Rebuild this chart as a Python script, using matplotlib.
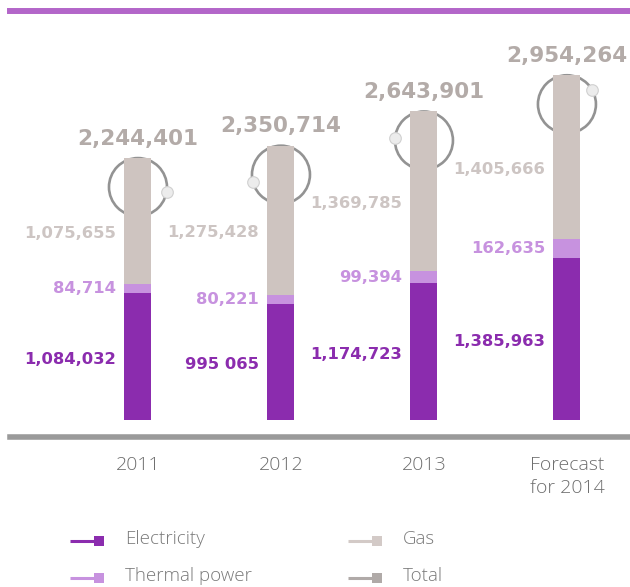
import matplotlib
matplotlib.use("Agg")
import matplotlib.pyplot as plt
from matplotlib.transforms import offset_copy
import numpy as np

years = ["2011", "2012", "2013", "Forecast\nfor 2014"]
electricity = [1084032, 995065, 1174723, 1385963]
thermal = [84714, 80221, 99394, 162635]
gas = [1075655, 1275428, 1369785, 1405666]
totals = [2244401, 2350714, 2643901, 2954264]
elec_labels = ["1,084,032", "995 065", "1,174,723", "1,385,963"]
ball_angles = [-10, 195, 176, 30]  # where the little knob sits on each ring

c_elec = "#8b2cae"
c_therm = "#c792df"
c_gas = "#cec4c0"
c_total = "#b3aba8"
c_gas_txt = "#cdc5c3"

W, H = 630, 587
fig = plt.figure(figsize=(W / 100, H / 100), dpi=100)
ax = fig.add_axes([10 / W, (H - 437) / H, 620 / W, (437 - 11) / H])

upp = 1e6 / 116.7  # data units per pixel
ax.set_ylim(-17 * upp, 409 * upp)
ax.set_xlim(-0.895, 3.441)

x = np.arange(len(years))
w = 0.189
elec = np.array(electricity)
therm = np.array(thermal)
g = np.array(gas)

ax.bar(x, elec, w, color=c_elec, zorder=2)
ax.bar(x, therm, w, bottom=elec, color=c_therm, zorder=2)
ax.bar(x, g, w, bottom=elec + therm, color=c_gas, zorder=2)

# rings around the bar tops
r = 29
ring_tr = offset_copy(ax.transData, fig=fig, y=-r, units="dots")
ax.scatter(x, totals, s=(2 * r * 0.72) ** 2, facecolors="none",
           edgecolors="#939393", linewidths=1.9, transform=ring_tr, zorder=1)
for xi, t, a in zip(x, totals, ball_angles):
    tr = offset_copy(ax.transData, fig=fig, x=r * np.cos(np.radians(a)),
                     y=-r + r * np.sin(np.radians(a)), units="dots")
    ax.scatter([xi], [t], s=70, color="#ececec", edgecolors="#d0d0d0",
               linewidths=0.8, transform=tr, zorder=3)

num_font = dict(fontsize=11.8, fontweight="bold", family="DejaVu Sans",
                textcoords="offset points", ha="right", va="center")
for i in range(len(x)):
    left = x[i] - w / 2
    ax.annotate(elec_labels[i], xy=(left, elec[i] / 2), xytext=(-6, -2),
                color=c_elec, **num_font)
    ax.annotate(f"{therm[i]:,}", xy=(left, elec[i] + therm[i] / 2), xytext=(-6, 0),
                color=c_therm, **num_font)
    ax.annotate(f"{g[i]:,}", xy=(left, elec[i] + therm[i] + g[i] / 2), xytext=(-6, -9),
                color=c_gas_txt, **num_font)
    ax.annotate(f"{totals[i]:,}", xy=(x[i], totals[i]), xytext=(0, 14),
                textcoords="offset points", ha="center", va="center",
                fontsize=15.5, fontweight="bold", family="DejaVu Sans", color=c_total)

for s in ["left", "right"]:
    ax.spines[s].set_visible(False)
ax.spines["bottom"].set_color("#9a9a9a")
ax.spines["bottom"].set_linewidth(4)
ax.spines["top"].set_color("#b366c9")
ax.spines["top"].set_linewidth(4.3)
ax.set_yticks([])
ax.set_xticks(x)
ax.set_xticklabels(years, fontsize=14, family="Open Sans", fontweight="light",
                   color="#6e6e6e", linespacing=1.35)
ax.tick_params(axis="x", length=0, pad=14)

# legend drawn in pixel space
lg = fig.add_axes([0, 0, 1, 1], zorder=-1)
lg.set_xlim(0, W)
lg.set_ylim(H, 0)
lg.axis("off")
items = [("Electricity", c_elec, 70, 541), ("Thermal power", c_therm, 70, 578),
         ("Gas", "#d3cac7", 348, 541), ("Total", "#b0aaa8", 348, 578)]
for name, col, x0, y0 in items:
    lg.plot([x0, x0 + 25], [y0, y0], color=col, lw=2.2, solid_capstyle="butt")
    lg.plot([x0 + 29], [y0], marker="s", ms=7.5, color=col, mew=0)
    lg.text(x0 + 55, y0 - 2, name, fontsize=13.5, family="Open Sans",
            fontweight="light", color="#7a7a7a", va="center", ha="left")

fig.savefig("out.png", dpi=100)
